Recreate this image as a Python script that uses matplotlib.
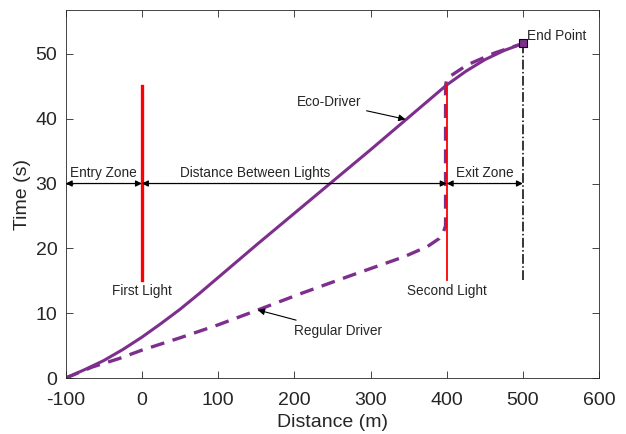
import matplotlib.pyplot as plt
import numpy as np

plt.rcParams['font.family'] = ['Liberation Sans', 'DejaVu Sans']
plt.rcParams['axes.unicode_minus'] = False

# eco-driver trajectory (distance m, time s)
eco_x = [-100, -75, -50, -25, 0, 25, 50, 75, 100, 150, 200, 250, 300, 350, 400, 425, 450, 475, 500]
eco_t = [0, 1.3, 2.7, 4.4, 6.3, 8.4, 10.6, 13.0, 15.5, 20.5, 25.4, 30.3, 35.2, 40.2, 45.2, 47.3, 49.1, 50.5, 51.6]

# regular driver trajectory
reg_x = [-100, -65, -30, 0, 50, 100, 150, 208, 274, 344, 375, 390, 396, 398.5, 398.5, 400, 427, 462, 500]
reg_t = [0, 1.7, 3.0, 4.3, 6.2, 8.2, 10.4, 13.0, 15.8, 18.7, 20.3, 21.5, 22.6, 23.5, 45.0, 46.2, 48.3, 50.1, 51.6]

purple = '#7E2F8E'
text_col = '#262626'

fig = plt.figure(figsize=(6.26, 4.34), dpi=100)
ax = fig.add_axes([0.105, 0.129, 0.852, 0.847])

ax.plot(eco_x, eco_t, color=purple, linewidth=2.2)
ax.plot(reg_x, reg_t, color=purple, linewidth=2.4, linestyle=(0, (4.2, 2.6)))

# traffic lights and end line
ax.plot([0, 0], [15.1, 45], color='red', linewidth=2.4)
ax.plot([400, 400], [15.1, 45.2], color='red', linewidth=1.3)
ax.plot([500, 500], [15.1, 51.6], color='black', linewidth=1.1, linestyle='-.')
ax.plot([500], [51.6], marker='s', markersize=6, markerfacecolor=purple, markeredgecolor='black', markeredgewidth=0.8)

# zone arrows
arrow_kw = dict(arrowstyle='<|-|>', color='black', linewidth=0.9, shrinkA=0, shrinkB=0, mutation_scale=9)
for x0, x1 in [(-100, 0), (0, 400), (400, 500)]:
    ax.annotate('', xy=(x1, 30), xytext=(x0, 30), arrowprops=arrow_kw)

fs = 9.8
ax.text(-50, 30.6, 'Entry Zone', ha='center', va='bottom', fontsize=fs, color=text_col)
ax.text(148, 30.6, 'Distance Between Lights', ha='center', va='bottom', fontsize=fs, color=text_col)
ax.text(450, 30.6, 'Exit Zone', ha='center', va='bottom', fontsize=fs, color=text_col)
ax.text(0, 13.4, 'First Light', ha='center', va='center', fontsize=fs, color=text_col)
ax.text(400, 13.4, 'Second Light', ha='center', va='center', fontsize=fs, color=text_col)
ax.text(506, 52.7, 'End Point', ha='left', va='center', fontsize=fs, color=text_col)

ax.annotate('Eco-Driver', xy=(346, 39.9), xytext=(203, 42.5), ha='left', va='center',
            fontsize=fs, color=text_col,
            arrowprops=dict(arrowstyle='-|>', color='black', linewidth=0.8, shrinkA=2, shrinkB=0, mutation_scale=10))
ax.annotate('Regular Driver', xy=(152, 10.5), xytext=(200, 7.2), ha='left', va='center',
            fontsize=fs, color=text_col,
            arrowprops=dict(arrowstyle='-|>', color='black', linewidth=0.8, shrinkA=4, shrinkB=0, mutation_scale=10))

ax.set_xlim(-100, 600)
ax.set_ylim(0, 56.7)
ax.set_xticks(np.arange(-100, 601, 100))
ax.set_yticks(np.arange(0, 51, 10))
ax.set_xlabel('Distance (m)', fontsize=14, color=text_col, labelpad=4)
ax.set_ylabel('Time (s)', fontsize=14, color=text_col, labelpad=3)
ax.tick_params(direction='in', top=True, right=True, labelsize=14, colors=text_col, length=5, width=0.6)
ax.tick_params(axis='x', pad=10)
ax.tick_params(axis='y', pad=6)
for s in ax.spines.values():
    s.set_color(text_col)
    s.set_linewidth(0.6)

fig.savefig('out.png', dpi=100)
